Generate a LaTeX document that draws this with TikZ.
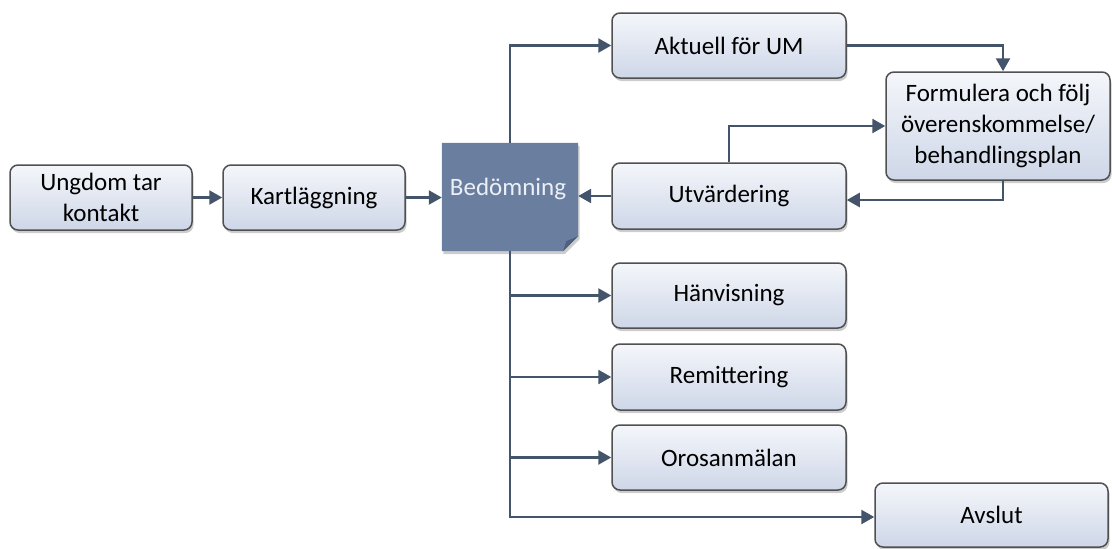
\documentclass[tikz,border=0pt]{standalone}
\usepackage{fontspec}
\setmainfont{Carlito}
\usetikzlibrary{arrows.meta,calc,shadows}
\definecolor{arrowc}{RGB}{68,84,106}
\definecolor{boxtop}{RGB}{244,246,250}
\definecolor{boxbot}{RGB}{206,215,232}
\definecolor{boxline}{RGB}{80,80,80}
\definecolor{bedc}{RGB}{106,127,160}
\definecolor{bedfold}{RGB}{78,96,128}
\definecolor{bedtextc}{RGB}{236,240,246}
\tikzset{
  flowbox/.style={rectangle, rounded corners=8pt, draw=boxline, line width=1.5pt,
    top color=boxtop, bottom color=boxbot, inner sep=2pt, align=center,
    font=\fontsize{25}{31}\selectfont, text=black,
    drop shadow={shadow xshift=1.5pt, shadow yshift=-3pt, opacity=0.4}},
  conn/.style={draw=arrowc, line width=2.5pt, -{Triangle[length=13pt,width=14pt]}},
}
\begin{document}
\begin{tikzpicture}[x=1pt,y=-1pt]
\useasboundingbox (0,0) rectangle (1112,549);
% nodes
\node[flowbox, minimum width=182pt, minimum height=65pt] (ung) at (101,197.5) {Ungdom tar\\kontakt};
\node[flowbox, minimum width=182pt, minimum height=65pt] (kart) at (314,197.5) {Kartläggning};
\node[minimum width=136pt, minimum height=108pt, inner sep=0pt] (bed) at (510,197) {};
\fill[bedc, drop shadow={shadow xshift=1.5pt, shadow yshift=-3pt, opacity=0.4}]
  (bed.north west) -- (bed.north east) -- ($(bed.south east)+(0,-15)$)
  -- ($(bed.south east)+(-15,0)$) -- (bed.south west) -- cycle;
\fill[bedfold] ($(bed.south east)+(0,-15)$) -- ($(bed.south east)+(-15,0)$) -- ($(bed.south east)+(-12,-10)$) -- cycle;
\node[text=bedtextc, font=\fontsize{25}{31}\selectfont] (bedtext) at (508,189) {Bedömning};
\node[flowbox, minimum width=234pt, minimum height=65pt] (akt) at (729,45.5) {Aktuell för UM};
\node[flowbox, minimum width=224pt, minimum height=108pt] (form) at (998,126) {Formulera och följ\\överenskommelse/\\behandlingsplan};
\node[flowbox, minimum width=234pt, minimum height=66pt] (utv) at (729,196) {Utvärdering};
\node[flowbox, minimum width=234pt, minimum height=65pt] (han) at (729,295.5) {Hänvisning};
\node[flowbox, minimum width=234pt, minimum height=66pt] (rem) at (729,377) {Remittering};
\node[flowbox, minimum width=234pt, minimum height=65pt] (oro) at (729,457.5) {Orosanmälan};
\node[flowbox, minimum width=233pt, minimum height=64pt] (avs) at (991.5,515) {Avslut};
% connectors
\draw[conn] (ung.east) -- (kart.west);
\draw[conn] (kart.east) -- (kart.east -| bed.west);
\draw[conn] (utv.west) -- (utv.west -| bed.east);
\draw[conn] (bed.north) |- (akt.west);
\draw[conn] (akt.east) -| ($(form.north)+(5,0)$);
\draw[conn] ($(form.south)+(5,0)$) |- ($(utv.east)+(0,4)$);
\draw[conn] (utv.north) |- (form.west);
\draw[conn] (bed.south) |- (han.west);
\draw[conn] (bed.south) |- (rem.west);
\draw[conn] (bed.south) |- (oro.west);
\draw[conn] (bed.south) |- ($(avs.west)+(0,2)$);
\end{tikzpicture}
\end{document}
